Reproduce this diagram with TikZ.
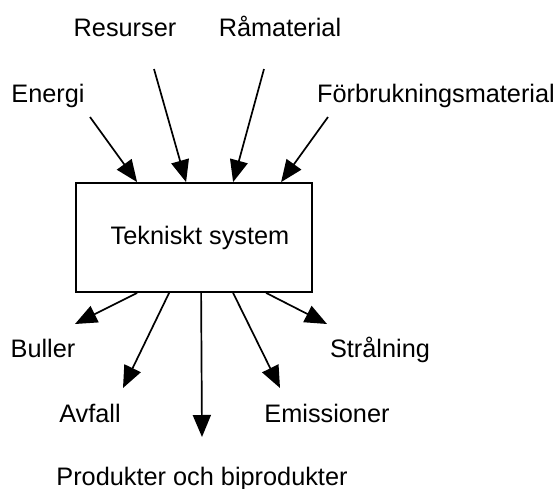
\documentclass[tikz,border=0pt]{standalone}
\usepackage{fontspec}
\setmainfont{Liberation Sans}
\usetikzlibrary{arrows.meta}
\begin{document}
\begin{tikzpicture}[x=1pt,y=-1pt,
  lbl/.style={anchor=base,inner sep=0pt,font=\fontsize{25.3}{30}\selectfont},
  flow/.style={line width=1.7pt,-{Triangle[length=22pt,width=18pt]}},
  sysbox/.style={draw,line width=1.8pt,minimum width=236pt,minimum height=109pt,inner sep=0pt,font=\fontsize{25.3}{30}\selectfont}]
\useasboundingbox (0,0) rectangle (560,488);
\clip (0,0) rectangle (560,488);
% box
\node[sysbox] (sys) at (194,237.5) {\hspace*{12pt}Tekniskt system};
% labels
\node[lbl] (energi) at (48,102) {Energi};
\node[lbl] (res) at (125,36) {Resurser};
\node[lbl] (ram) at (280,36) {Råmaterial};
\node[lbl] (forb) at (436,102) {Förbrukningsmaterial};
\node[lbl] (bul) at (43,357) {Buller};
\node[lbl] (avf) at (90,422) {Avfall};
\node[lbl] (prod) at (202,485) {Produkter och biprodukter};
\node[lbl] (emi) at (327,422) {Emissioner};
\node[lbl] (str) at (380,357) {Strålning};
% free ends
\coordinate (cE) at (90,117);
\coordinate (cR) at (154,69);
\coordinate (cM) at (264,69);
\coordinate (cF) at (328,117);
\coordinate (cB) at (75,324);
\coordinate (cA) at (123,388);
\coordinate (cP) at (202,437);
\coordinate (cEm) at (280,388);
\coordinate (cS) at (327,324);
% inputs
\draw[flow] (cE) -- ([xshift=62pt]sys.north west);
\draw[flow] (cR) -- ([xshift=111pt]sys.north west);
\draw[flow] (cM) -- ([xshift=158pt]sys.north west);
\draw[flow] (cF) -- ([xshift=206pt]sys.north west);
% outputs
\draw[flow] ([xshift=62pt]sys.south west) -- (cB);
\draw[flow] ([xshift=94pt]sys.south west) -- (cA);
\draw[flow] ([xshift=126pt]sys.south west) -- (cP);
\draw[flow] ([xshift=158pt]sys.south west) -- (cEm);
\draw[flow] ([xshift=191pt]sys.south west) -- (cS);
\end{tikzpicture}
\end{document}
